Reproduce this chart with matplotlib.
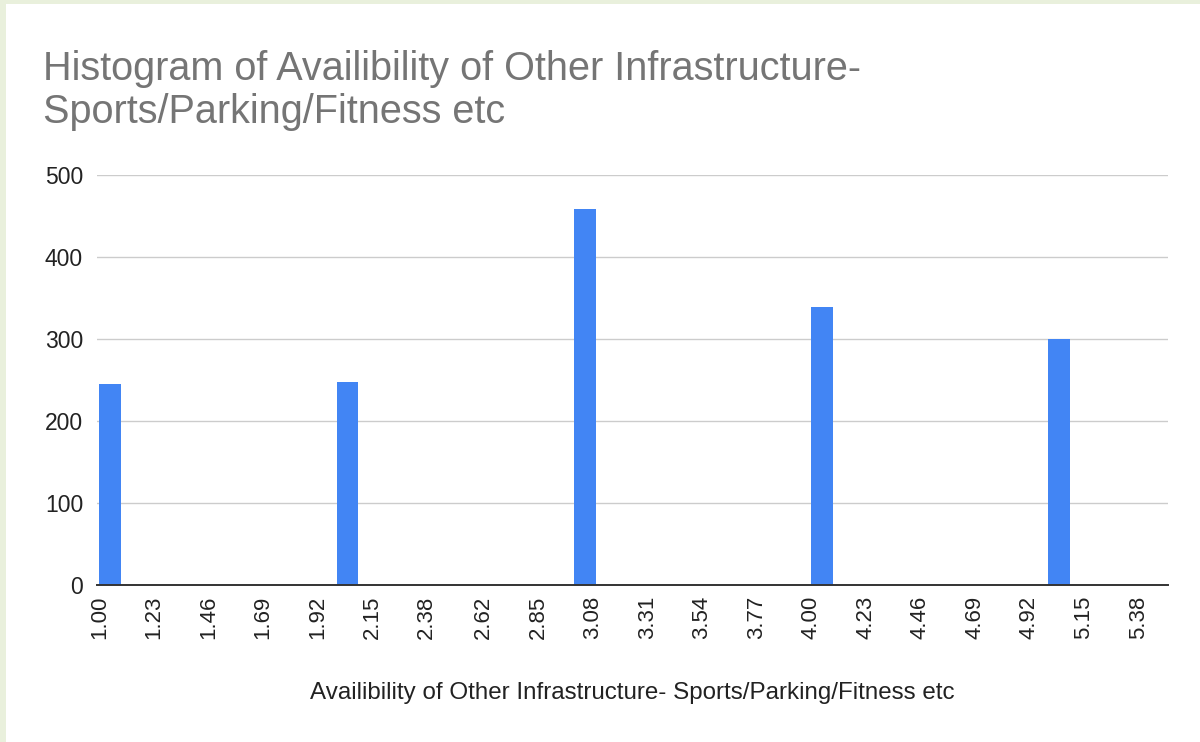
import matplotlib
matplotlib.use("Agg")
import matplotlib.pyplot as plt
from matplotlib.patches import Rectangle

# answers given (scale 1-5) and how many people gave each
values = [1, 2, 3, 4, 5]
counts = [245, 247, 459, 339, 300]

tick_labels = ["1.00", "1.23", "1.46", "1.69", "1.92", "2.15", "2.38", "2.62", "2.85", "3.08",
               "3.31", "3.54", "3.77", "4.00", "4.23", "4.46", "4.69", "4.92", "5.15", "5.38"]
y_ticks = [0, 100, 200, 300, 400, 500]

title = "Histogram of Availibility of Other Infrastructure-\nSports/Parking/Fitness etc"
x_label = "Availibility of Other Infrastructure- Sports/Parking/Fitness etc"

plt.rcParams['font.family'] = ['Liberation Sans', 'DejaVu Sans']

fig = plt.figure(figsize=(12, 7.42), dpi=100)
fig.patch.set_facecolor("#e9f0dc")
# white card inside the green frame
fig.patches.append(Rectangle((6/1200, 0), 1 - 6/1200, 1 - 4/742, transform=fig.transFigure,
                             facecolor="white", edgecolor="none", zorder=0))

ax = fig.add_axes([97/1200, 1 - 585/742, (1168 - 97)/1200, 410/742])
ax.set_zorder(2)
ax.set_facecolor("white")

ax.bar(values, counts, width=0.092, align="edge", color="#4285f4", zorder=3)

ax.set_xlim(0.99, 5.505)
ax.set_ylim(0, 500)
ax.set_yticks(y_ticks)
ax.set_yticklabels([str(v) for v in y_ticks])
ax.set_xticks([float(t) for t in tick_labels])
ax.set_xticklabels(tick_labels, rotation=90)
ax.tick_params(axis="y", length=0, pad=10, labelsize=16.5, labelcolor="#222222")
ax.tick_params(axis="x", length=0, pad=8, labelsize=16, labelcolor="#222222")

ax.grid(axis="y", color="#cccccc", linewidth=1, zorder=0)
ax.grid(axis="x", visible=False)
for s in ["top", "right", "left"]:
    ax.spines[s].set_visible(False)
ax.spines["bottom"].set_color("#333333")
ax.spines["bottom"].set_linewidth(1.4)
ax.spines["bottom"].set_zorder(4)

ax.set_xlabel(x_label, fontsize=17.4, color="#222222")
ax.xaxis.set_label_coords(0.5, -0.263)
ax.xaxis.label.set_va("center")

fig.text(43/1200, 1 - 50/742, title, fontsize=28.5, color="#757575", va="top", ha="left",
         linespacing=1.17, zorder=3)

fig.savefig("out.png", dpi=100)
